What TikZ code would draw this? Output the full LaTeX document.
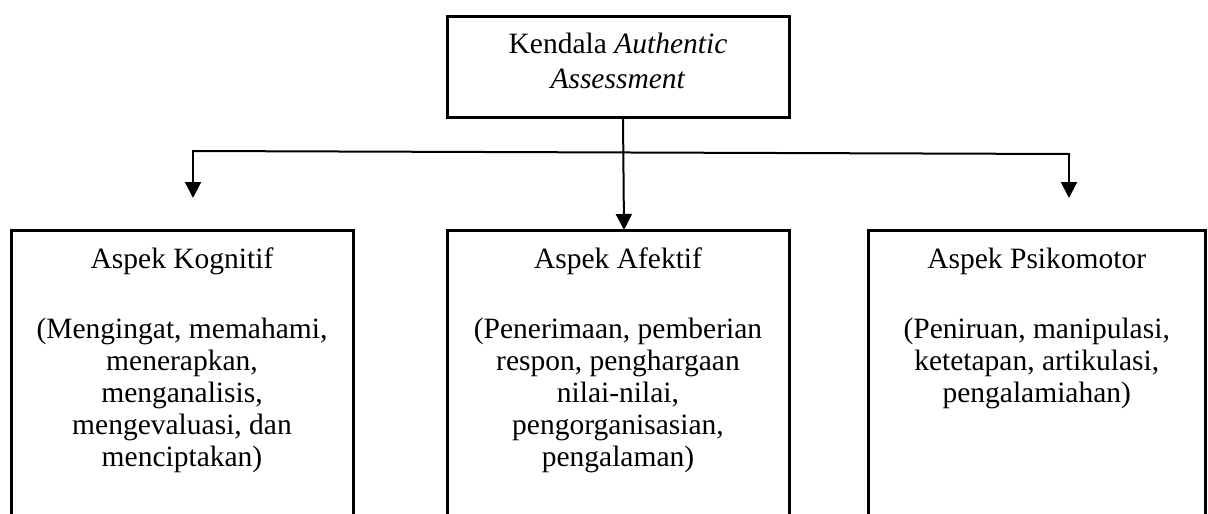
\documentclass[tikz,border=0pt]{standalone}
\usepackage{fontspec}
\setmainfont{Liberation Serif}
\usetikzlibrary{arrows.meta}
\begin{document}
\begin{tikzpicture}[x=1pt,y=-1pt,
  boxnode/.style={draw,line width=3pt,inner sep=0pt,outer sep=0pt,rectangle},
  boxtext/.style={align=center,inner sep=0pt,anchor=north,font=\fontsize{29.5}{32}\selectfont},
  toptext/.style={align=center,inner sep=0pt,anchor=north,font=\fontsize{29.5}{35}\selectfont},
  conn/.style={line width=2pt,line cap=rect},
  arr/.style={conn,-{Triangle[width=16pt,length=16pt]}}]
\useasboundingbox (0,0) rectangle (1208,514);
\clip (0,0) rectangle (1208,514);
% boxes
\node[boxnode,minimum width=342pt,minimum height=101pt] (top) at (618,66.5) {};
\node[boxnode,minimum width=342pt,minimum height=370pt] (kog) at (182,415) {};
\node[boxnode,minimum width=342pt,minimum height=370pt] (afe) at (618,415) {};
\node[boxnode,minimum width=337.5pt,minimum height=370pt] (psi) at (1036.75,415) {};
% texts
\node[toptext] (toptxt) at (618,32.5) {Kendala \textit{Authentic}\\\textit{Assessment}};
\node[boxtext] (kogtxt) at (182,247.5) {Aspek Kognitif\\[38pt](Mengingat, memahami,\\menerapkan,\\menganalisis,\\mengevaluasi, dan\\menciptakan)};
\node[boxtext] (afetxt) at (618,247.5) {Aspek Afektif\\[38pt](Penerimaan, pemberian\\respon, penghargaan\\nilai-nilai,\\pengorganisasian,\\pengalaman)};
\node[boxtext] (psitxt) at (1036.75,247.5) {Aspek Psikomotor\\[38pt](Peniruan, manipulasi,\\ketetapan, artikulasi,\\pengalamiahan)};
% connectors
\coordinate (hl) at (193,151);
\coordinate (hr) at (1069,154);
\coordinate (al) at (193,198);
\coordinate (ar) at (1069,198);
\draw[conn] (hl) -- (hr);
\draw[arr] (hl) -- (al);
\draw[arr] (hr) -- (ar);
\draw[arr] ([xshift=5pt]top.south) -- ([xshift=6pt]afe.north);
\end{tikzpicture}
\end{document}
